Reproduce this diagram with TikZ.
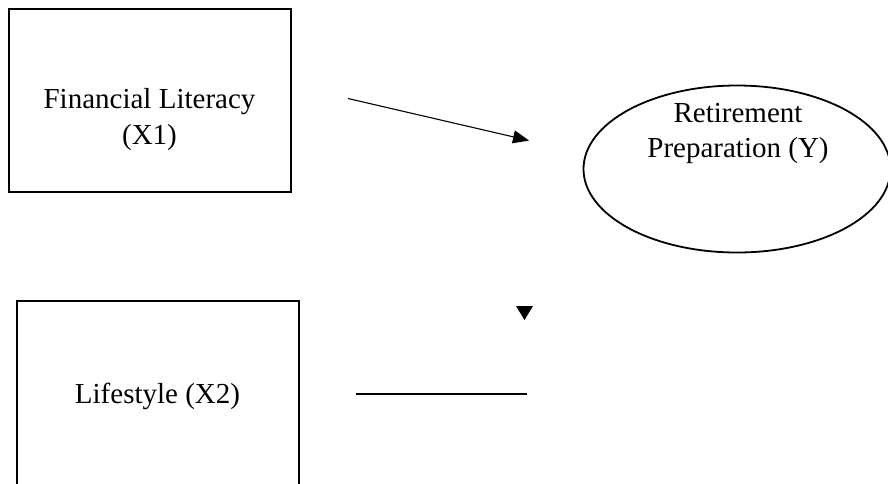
\documentclass[tikz,border=0pt]{standalone}
\usepackage{fontspec}
\setmainfont{Liberation Serif}
\usetikzlibrary{arrows.meta,shapes.geometric}
\begin{document}
\begin{tikzpicture}[x=1pt,y=-1pt,
  varbox/.style={draw,line width=2pt,rectangle,inner sep=0pt,minimum width=282pt},
  varoval/.style={draw,line width=1.8pt,ellipse,inner sep=0pt,minimum width=307pt,minimum height=167pt},
  lbl/.style={font=\fontsize{29}{35}\selectfont,align=center,inner sep=0pt},
  conn/.style={line width=1.1pt},
  tip/.style={-{Triangle[length=16pt,width=13pt]}}]
\useasboundingbox (0,0) rectangle (888,483);
\clip (0,0) rectangle (888,483);
\fill[white] (0,0) rectangle (888,483);
% boxes
\node[varbox,minimum height=183pt] (x1) at (149.5,100.5) {};
\node[varbox,minimum height=200pt] (x2) at (157.5,401) {};
\node[varoval] (y) at (737,169) {};
% texts
\node[lbl,anchor=base] (x1a) at (149.5,108) {Financial Literacy};
\node[lbl,anchor=base] (x1b) at (149.5,144.5) {(X1)};
\node[lbl,anchor=base] (x2t) at (157.5,403) {Lifestyle (X2)};
\node[lbl,anchor=base] (ya) at (738,122) {Retirement};
\node[lbl,anchor=base] (yb) at (738,157) {Preparation (Y)};
% connectors
\coordinate (a1) at (348,98.5);
\coordinate (a2) at (529,140.5);
\draw[conn,tip] (a1) -- (a2);
\coordinate (l1) at (356,394);
\coordinate (l2) at (527,394);
\draw[conn] (l1) -- (l2);
% orphan arrowhead
\coordinate (t1) at (516,306);
\coordinate (t2) at (533,306);
\coordinate (t3) at (524.5,320);
\fill (t1) -- (t2) -- (t3) -- cycle;
\end{tikzpicture}
\end{document}
